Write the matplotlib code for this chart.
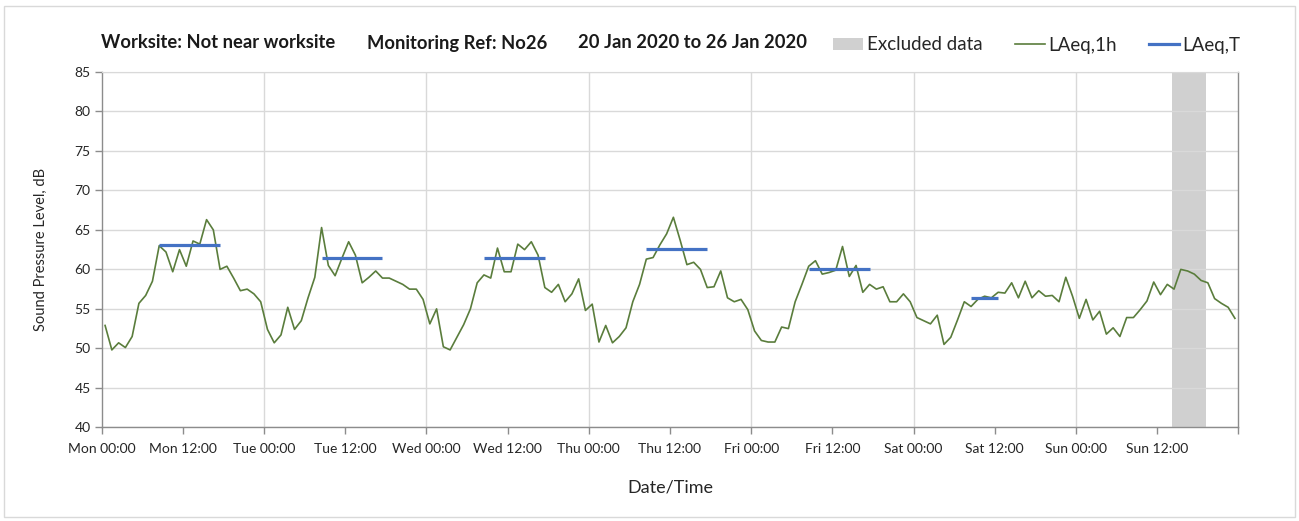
import numpy as np
import matplotlib
matplotlib.use("Agg")
import matplotlib.pyplot as plt
from matplotlib.patches import Patch, Rectangle
from matplotlib.lines import Line2D

plt.rcParams['font.family'] = ['Lato', 'DejaVu Sans']

# Hourly LAeq,1h values (dB), one list per day, hour 00..23
mon = [52.9, 49.8, 50.7, 50.1, 51.5, 55.7, 56.7, 58.5, 63.0, 62.2, 59.7, 62.5,
       60.4, 63.6, 63.2, 66.3, 65.0, 60.0, 60.4, 58.9, 57.3, 57.5, 56.9, 55.9]
tue = [52.4, 50.7, 51.7, 55.2, 52.4, 53.5, 56.4, 59.0, 65.3, 60.5, 59.2, 61.4,
       63.5, 61.8, 58.3, 59.0, 59.8, 58.9, 58.9, 58.5, 58.1, 57.5, 57.5, 56.2]
wed = [53.1, 55.0, 50.2, 49.8, 51.4, 53.0, 55.0, 58.3, 59.3, 58.9, 62.7, 59.7,
       59.7, 63.2, 62.5, 63.5, 61.8, 57.7, 57.1, 58.1, 55.9, 56.9, 58.8, 54.8]
thu = [55.6, 50.8, 52.9, 50.7, 51.5, 52.6, 55.9, 58.1, 61.3, 61.5, 63.1, 64.5,
       66.6, 63.7, 60.6, 60.9, 60.0, 57.7, 57.8, 59.8, 56.4, 55.9, 56.2, 54.9]
fri = [52.2, 51.0, 50.8, 50.8, 52.7, 52.5, 55.9, 58.1, 60.4, 61.1, 59.4, 59.6,
       59.9, 62.9, 59.1, 60.5, 57.1, 58.1, 57.5, 57.8, 55.9, 55.9, 56.9, 55.9]
sat = [53.9, 53.5, 53.1, 54.2, 50.5, 51.4, 53.6, 55.9, 55.3, 56.2, 56.6, 56.4,
       57.1, 57.0, 58.3, 56.4, 58.5, 56.4, 57.3, 56.6, 56.7, 55.9, 59.0, 56.6]
sun = [53.8, 56.2, 53.6, 54.7, 51.8, 52.6, 51.5, 53.9, 53.9, 54.9, 56.0, 58.4,
       56.8, 58.1, 57.5, 60.0, 59.8, 59.4, 58.6, 58.3, 56.3, 55.7, 55.2, 53.8]

# LAeq,T daytime periods: start hour, end hour (hours since Mon 00:00), level dB
laeqT_start = [8.5, 32.5, 56.5, 80.5, 104.5, 128.5]
laeqT_end = [17.5, 41.5, 65.5, 89.5, 113.5, 132.5]
laeqT_level = [63.1, 61.4, 61.4, 62.6, 60.0, 56.4]

# Excluded data period (hours since Mon 00:00)
excluded_start = 158.2
excluded_end = 163.2

tick_labels = ['Mon 00:00', 'Mon 12:00', 'Tue 00:00', 'Tue 12:00', 'Wed 00:00',
               'Wed 12:00', 'Thu 00:00', 'Thu 12:00', 'Fri 00:00', 'Fri 12:00',
               'Sat 00:00', 'Sat 12:00', 'Sun 00:00', 'Sun 12:00']

values = np.array(mon + tue + wed + thu + fri + sat + sun)
hours = np.arange(len(values)) + 0.5

GREEN = '#5a7d3c'
BLUE = '#4472c4'
GRID = '#d9d9d9'
AXC = '#8c8c8c'

fig = plt.figure(figsize=(12.99, 5.21), dpi=100)
ax = fig.add_axes([101.7 / 1299, (521 - 427.3) / 521,
                   (1238.3 - 101.7) / 1299, (427.3 - 72) / 521])

ax.axvspan(excluded_start, excluded_end, color='#d0d0d0', lw=0, zorder=1)
ax.plot(hours, values, color=GREEN, lw=1.2, zorder=3)
for s, e, l in zip(laeqT_start, laeqT_end, laeqT_level):
    ax.plot([s, e], [l, l], color=BLUE, lw=2.3, zorder=4, solid_capstyle='butt')

ax.set_xlim(0, 168)
ax.set_ylim(40, 85)
ax.set_yticks(np.arange(40, 86, 5))
ax.set_xticks(np.arange(0, 168, 12))
ax.set_xticks([168], minor=True)
ax.set_xticklabels(tick_labels)

ax.grid(axis='y', color=GRID, lw=1.0, zorder=0)
for d in range(24, 168, 24):
    ax.axvline(d, color=GRID, lw=1.0, zorder=0)

for side in ['left', 'bottom', 'right']:
    ax.spines[side].set_color(AXC)
    ax.spines[side].set_linewidth(1.0)
ax.spines['top'].set_color(GRID)
ax.tick_params(axis='both', which='both', color=AXC, length=5, width=1.0,
               labelsize=10, labelcolor='#262626')
ax.tick_params(axis='x', pad=6)
ax.tick_params(axis='y', pad=3)

ax.set_ylabel('Sound Pressure Level, dB', fontsize=10.5, color='#262626', labelpad=19)
ax.set_xlabel('Date/Time', fontsize=13, color='#262626', labelpad=18)

# Header texts
hdr = dict(fontsize=13.2, fontweight='bold', ha='left', va='center', color='#1a1a1a')
fig.text(101 / 1299, 1 - 43 / 521, 'Worksite: Not near worksite', **hdr)
fig.text(367 / 1299, 1 - 43 / 521, 'Monitoring Ref: No26', **hdr)
fig.text(578 / 1299, 1 - 43 / 521, '20 Jan 2020 to 26 Jan 2020', **hdr)

handles = [Patch(facecolor='#d0d0d0', edgecolor='none'),
           Line2D([], [], color=GREEN, lw=1.2),
           Line2D([], [], color=BLUE, lw=2.3)]
fig.legend(handles, ['Excluded data', 'LAeq,1h', 'LAeq,T'], loc='center right',
           bbox_to_anchor=(1250 / 1299, 1 - 45 / 521), ncol=3, frameon=False,
           fontsize=13.5, handlelength=1.6, handleheight=0.6, handletextpad=0.2,
           columnspacing=1.7, borderpad=0, labelcolor='#262626')

fig.patches.append(Rectangle((4 / 1299, 4 / 521), 1291 / 1299, 511 / 521,
                             transform=fig.transFigure, fill=False,
                             edgecolor='#d9d9d9', lw=1.0))

fig.savefig('out.png', dpi=100, facecolor='white')
